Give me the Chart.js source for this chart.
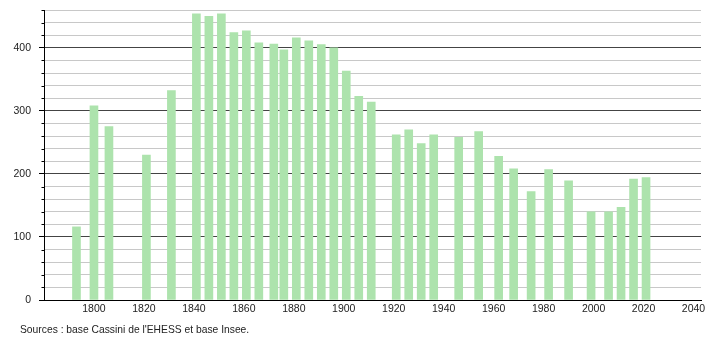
<!DOCTYPE html>
<html>
<head>
<meta charset="utf-8">
<script src="https://cdn.jsdelivr.net/npm/chart.js@4.4.1/dist/chart.umd.min.js"></script>
<style>
  html, body { margin: 0; padding: 0; background: #fff; }
  #wrap { position: relative; width: 710px; height: 340px; }
  #source {
    position: absolute; left: 20px; top: 324px;
    font: 10.3px "Liberation Sans", Arial, sans-serif; color: #222;
  }
</style>
</head>
<body>
<div id="wrap">
  <canvas id="chart" width="710" height="340"></canvas>
  <div id="source">Sources : base Cassini de l'EHESS et base Insee.</div>
</div>
<script>
// Population by census year
var years = [1793, 1800, 1806, 1821, 1831, 1841, 1846, 1851, 1856, 1861,
             1866, 1872, 1876, 1881, 1886, 1891, 1896, 1901, 1906, 1911,
             1921, 1926, 1931, 1936, 1946, 1954, 1962, 1968, 1975, 1982,
             1990, 1999, 2006, 2011, 2016, 2021];
var population = [116, 308, 275, 230, 332, 454, 450, 454, 424, 427,
                  408, 406, 397, 416, 411, 405, 400, 363, 323, 314,
                  262, 270, 248, 262, 258, 267, 228, 208, 172, 207,
                  189, 140, 140, 147, 192, 194];
var xRange = [1780, 2043];
var yRange = [0, 460];

var points = years.map(function (y, i) { return { x: y, y: population[i] }; });

// small ticks between the labelled hundreds
var minorTicks = {
  id: 'minorTicks',
  afterDraw: function (chart) {
    var s = chart.scales.y, ctx = chart.ctx;
    ctx.save();
    ctx.strokeStyle = '#000';
    ctx.lineWidth = 1;
    s.ticks.forEach(function (t) {
      if (t.value % 100 === 0) { return; }
      var py = Math.round(s.getPixelForValue(t.value)) + 0.5;
      ctx.beginPath();
      ctx.moveTo(s.right - 2.5, py);
      ctx.lineTo(s.right, py);
      ctx.stroke();
    });
    ctx.restore();
  }
};

new Chart(document.getElementById('chart'), {
  type: 'bar',
  data: {
    datasets: [{
      data: points,
      backgroundColor: '#ade3ad',
      borderWidth: 0,
      barThickness: 8
    }]
  },
  options: {
    responsive: false,
    animation: false,
    devicePixelRatio: 1,
    layout: { padding: { top: 10, right: 9, bottom: 0, left: 0 } },
    plugins: { legend: { display: false }, tooltip: { enabled: false } },
    scales: {
      x: {
        type: 'linear',
        offset: false,
        min: xRange[0],
        max: xRange[1],
        grid: { display: false, drawTicks: false },
        border: { display: true, color: '#000', width: 1 },
        ticks: {
          stepSize: 20,
          includeBounds: false,
          autoSkip: false,
          maxRotation: 0,
          padding: 3,
          color: '#222',
          font: { family: '"Liberation Sans", Arial, sans-serif', size: 10.5 },
          callback: function (v) { return v === xRange[0] ? '' : String(v); }
        },
        afterFit: function (scale) {
          scale.height = 40;
          scale.paddingLeft = 0;
          scale.paddingRight = 0;
        }
      },
      y: {
        min: yRange[0],
        max: yRange[1],
        grid: {
          color: function (c) { return c.tick && c.tick.value % 100 === 0 ? '#444' : '#c8c8c8'; },
          tickColor: function (c) { return c.tick && c.tick.value % 100 === 0 ? '#000' : 'rgba(0,0,0,0)'; },
          tickLength: 5
        },
        border: { display: true, color: '#000', width: 1 },
        ticks: {
          stepSize: 20,
          autoSkip: false,
          padding: 8,
          color: '#222',
          font: { family: '"Liberation Sans", Arial, sans-serif', size: 10.5 },
          callback: function (v) { return v % 100 === 0 ? String(v) : ''; }
        },
        afterFit: function (scale) {
          scale.width = 44;
          scale.paddingTop = 0;
          scale.paddingBottom = 0;
        }
      }
    }
  },
  plugins: [minorTicks]
});
</script>
</body>
</html>
